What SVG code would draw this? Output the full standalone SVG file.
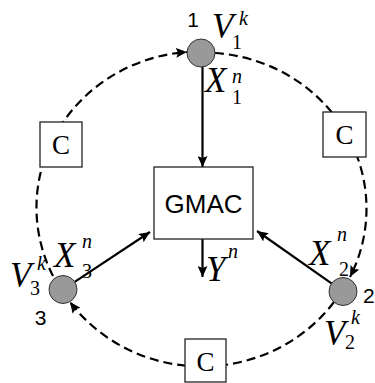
<svg xmlns="http://www.w3.org/2000/svg" width="375" height="383" viewBox="0 0 375 383">
<style>
.dash{fill:none;stroke:#000;stroke-width:2.2;stroke-dasharray:9,5}
.solid{fill:none;stroke:#000;stroke-width:2.2}
.node{fill:#999;stroke:#333;stroke-width:1}
.box{fill:#fff;stroke:#222;stroke-width:1.3}
.num{font-family:"Liberation Sans",Arial,sans-serif;font-size:21px;fill:#000}
.gm{font-family:"Liberation Sans",Arial,sans-serif;font-size:26px;fill:#000}
.c{font-family:"Liberation Serif","Times New Roman",serif;font-size:27px;fill:#000}
.big{font-family:"Liberation Serif","Times New Roman",serif;font-style:italic;font-size:35px;fill:#000}
.si{font-family:"Liberation Serif","Times New Roman",serif;font-style:italic;font-size:20px;fill:#000}
.sr{font-family:"Liberation Serif","Times New Roman",serif;font-size:20px;fill:#000}
</style>
<defs>
<marker id="ah" markerUnits="userSpaceOnUse" markerWidth="12" markerHeight="10" refX="11" refY="5" orient="auto">
<path d="M0,0 L11,5 L0,10 L2,5 z" fill="#000"/>
</marker>
</defs>
<g id="connectors">
<path class="dash" d="M215,53 A163 156 0 0 1 350,277" marker-end="url(#ah)"/>
<path class="dash" d="M334,302 A163 156 0 0 1 70,302" marker-end="url(#ah)"/>
<path class="dash" d="M53,276 A163 156 0 0 1 187,52" marker-end="url(#ah)"/>
<line class="solid" x1="202.5" y1="67" x2="202.5" y2="167" marker-end="url(#ah)"/>
<line class="solid" x1="74.7" y1="281.8" x2="150" y2="232" marker-end="url(#ah)"/>
<line class="solid" x1="331.5" y1="283.4" x2="257" y2="231" marker-end="url(#ah)"/>
<line class="solid" x1="202.5" y1="239" x2="202.5" y2="277" marker-end="url(#ah)"/>
</g>
<g id="c-left"><rect class="box" x="40" y="122" width="42" height="45"/><text class="c" x="61" y="154" text-anchor="middle">C</text></g>
<g id="c-right"><rect class="box" x="323" y="112" width="43" height="45"/><text class="c" x="344.5" y="144" text-anchor="middle">C</text></g>
<g id="c-bottom"><rect class="box" x="185" y="339" width="41" height="43"/><text class="c" x="205.5" y="371" text-anchor="middle">C</text></g>
<g id="gmac"><rect class="box" x="154" y="167" width="99" height="72"/><text class="gm" x="203.5" y="213" text-anchor="middle">GMAC</text></g>
<g id="node1">
<circle class="node" cx="201" cy="53" r="14"/>
<text class="num" x="193" y="27" text-anchor="middle">1</text>
<text class="big" x="212" y="38">V</text><text class="sr" x="232" y="49">1</text><text class="si" x="239" y="25">k</text>
<text class="big" x="205" y="92">X</text><text class="si" x="232" y="83">n</text><text class="sr" x="232" y="104">1</text>
</g>
<g id="node2">
<circle class="node" cx="343" cy="291.5" r="14"/>
<text class="num" x="363" y="303">2</text>
<text class="big" x="309" y="265">X</text><text class="si" x="337" y="241">n</text><text class="sr" x="339" y="276">2</text>
<text class="big" x="324" y="345">V</text><text class="sr" x="345" y="349">2</text><text class="si" x="351" y="324">k</text>
</g>
<g id="node3">
<circle class="node" cx="63" cy="289.5" r="14"/>
<text class="num" x="40.5" y="325" text-anchor="middle">3</text>
<text class="big" x="10" y="287">V</text><text class="sr" x="30" y="295">3</text><text class="si" x="37" y="270">k</text>
<text class="big" x="54" y="267">X</text><text class="si" x="82" y="248">n</text><text class="sr" x="82" y="278">3</text>
</g>
<g id="output">
<text class="big" x="206" y="281" font-size="30">Y</text><text class="si" x="228" y="258">n</text>
</g>
</svg>
